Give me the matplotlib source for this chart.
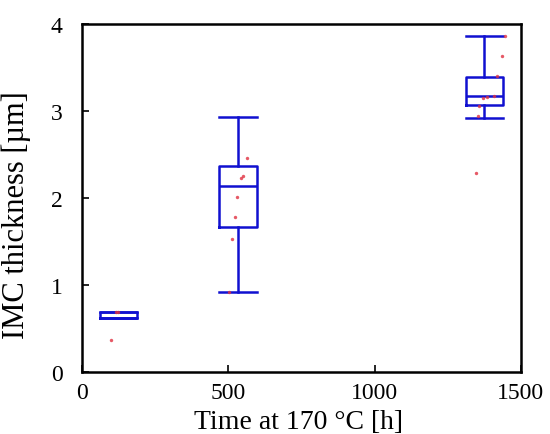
import matplotlib
matplotlib.use("Agg")
import matplotlib.pyplot as plt

# Box positions (h) and statistics (um)
positions = [125, 533, 1375]
q1 = [0.62, 1.66, 3.06]
med = [0.62, 2.13, 3.17]
q3 = [0.69, 2.36, 3.39]
whislo = [0.62, 0.92, 2.92]
whishi = [0.69, 2.93, 3.86]

# Individual measurements (time h, thickness um)
pts_t = [99, 115, 122,
         502, 512, 523, 530, 543, 550, 564,
         1346, 1353, 1356, 1370, 1384, 1408, 1418, 1435, 1445]
pts_v = [0.37, 0.69, 0.69,
         0.92, 1.53, 1.78, 2.01, 2.23, 2.25, 2.46,
         2.28, 2.94, 3.05, 3.15, 3.16, 3.17, 3.40, 3.63, 3.86]

xticks = [0, 500, 1000, 1500]
yticks = [0, 1, 2, 3, 4]

plt.rcParams['font.family'] = ['Liberation Serif', 'DejaVu Serif']
fig = plt.figure(figsize=(5.5, 4.35), dpi=100)
ax = fig.add_axes([0.149, 0.1425, 0.798, 0.801])

stats = []
for i in range(len(positions)):
    stats.append(dict(q1=q1[i], med=med[i], q3=q3[i], whislo=whislo[i],
                      whishi=whishi[i], fliers=[]))
blue = '#1010d0'
lp = dict(color=blue, linewidth=1.8)
ax.bxp(stats, positions=positions, widths=128, showfliers=False,
       boxprops=lp, medianprops=lp, whiskerprops=lp, capprops=lp,
       capwidths=128, manage_ticks=False)

ax.scatter(pts_t, pts_v, s=6, color='#e03040', alpha=0.8, zorder=3,
           linewidths=0)

ax.set_xlim(0, 1500)
ax.set_ylim(0, 4)
ax.set_xticks(xticks)
ax.set_yticks(yticks)
ax.tick_params(direction='in', labelsize=17, length=5, width=1.2,
               top=False, right=False)
ax.tick_params(axis='x', pad=7)
ax.tick_params(axis='y', pad=14)
for s in ax.spines.values():
    s.set_linewidth(1.8)
ax.set_xlabel('Time at 170 °C [h]', fontsize=20, va='top')
ax.xaxis.set_label_coords(0.493, -0.105)
ax.set_ylabel('IMC thickness [µm]', fontsize=22)
ax.yaxis.set_label_coords(-0.116, 0.454)

fig.savefig('out.png', dpi=100)
